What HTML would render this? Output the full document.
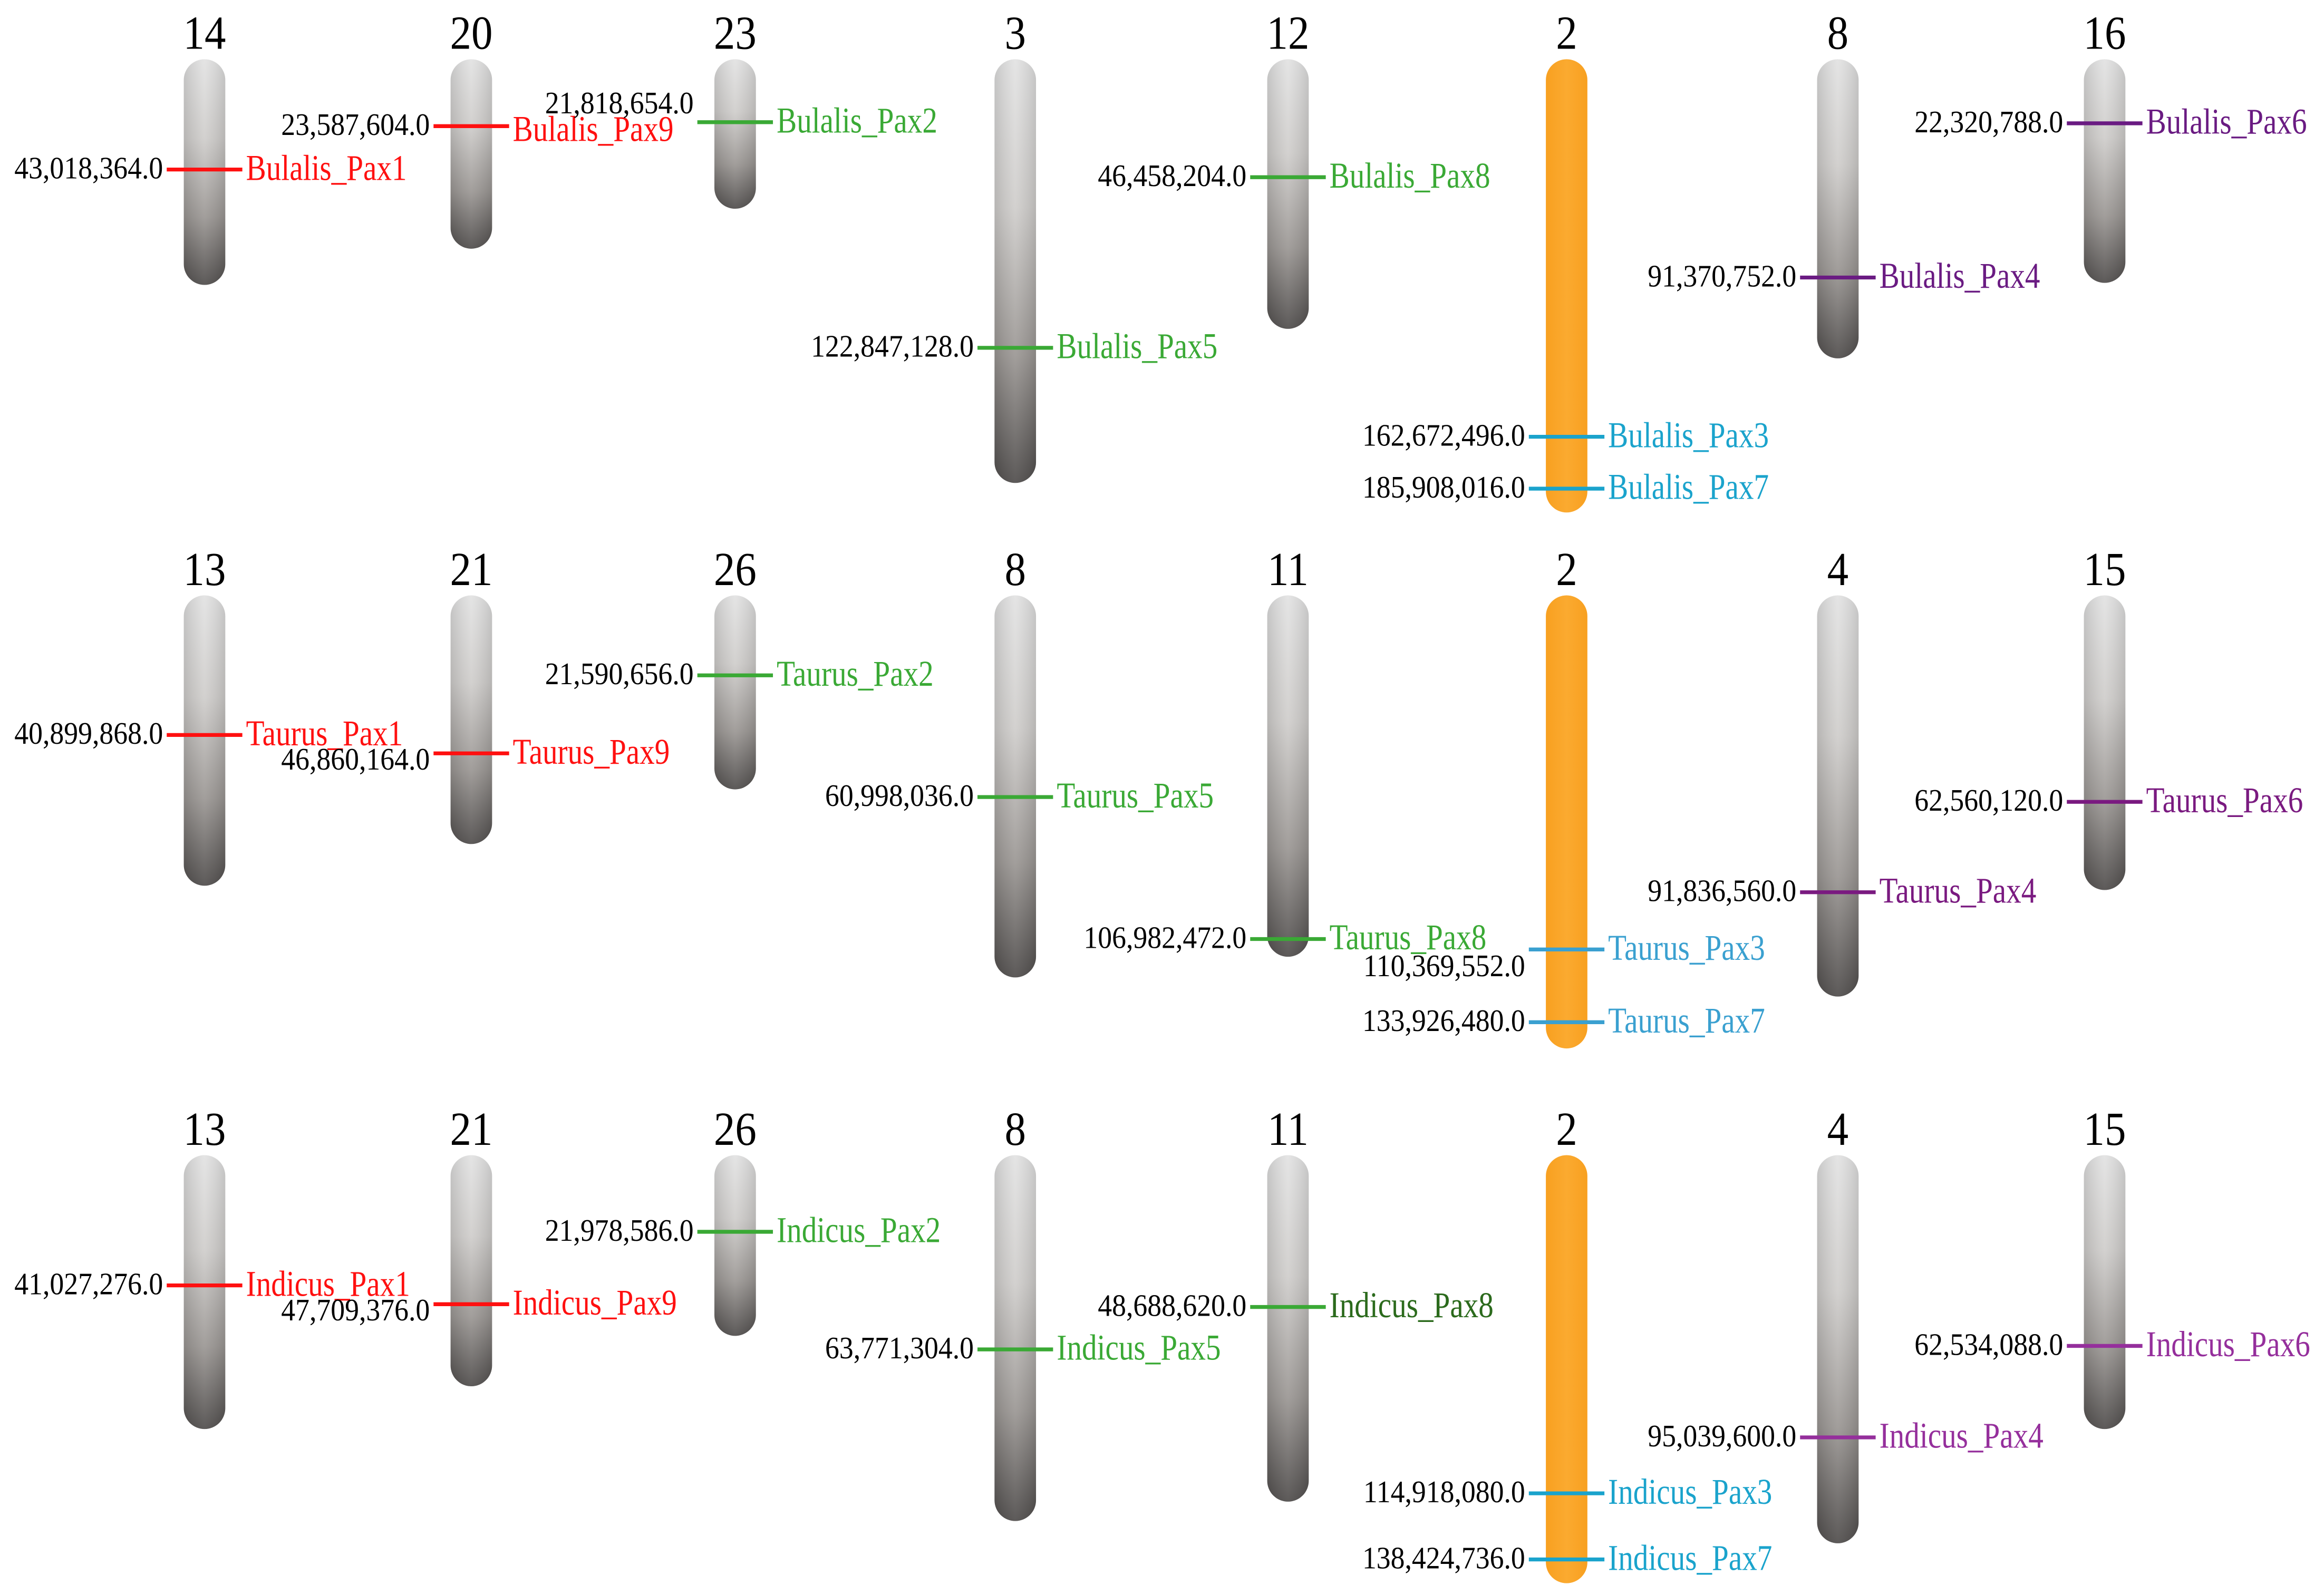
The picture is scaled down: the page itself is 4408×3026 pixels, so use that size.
<!DOCTYPE html>
<html><head><meta charset="utf-8"><style>
html,body{margin:0;padding:0;background:#fff;}
svg{display:block;}
</style></head><body>
<svg id="chart" width="4408" height="3026" viewBox="0 0 1568 1077" preserveAspectRatio="none" xmlns="http://www.w3.org/2000/svg">
<defs>
<linearGradient id="gv" x1="0" y1="0" x2="0" y2="1">
<stop offset="0" stop-color="#e2e2e2"/><stop offset="0.35" stop-color="#cfcdcb"/><stop offset="0.7" stop-color="#9a9693"/><stop offset="1" stop-color="#4f4c4b"/>
</linearGradient>
<linearGradient id="gh" x1="0" y1="0" x2="1" y2="0">
<stop offset="0" stop-color="#000" stop-opacity="0.12"/><stop offset="0.5" stop-color="#fff" stop-opacity="0.08"/><stop offset="1" stop-color="#000" stop-opacity="0.12"/>
</linearGradient>
<linearGradient id="go" x1="0" y1="0" x2="1" y2="0">
<stop offset="0" stop-color="#f8a020"/><stop offset="0.5" stop-color="#fbaa30"/><stop offset="1" stop-color="#f8a020"/>
</linearGradient>
</defs>
<g id="layer"></g>
</svg>
<script>
// Row definitions
const rowSpecies = ["Bulalis", "Taurus", "Indicus"];
const rowChromNames = [
  ["14","20","23","3","12","2","8","16"],
  ["13","21","26","8","11","2","4","15"],
  ["13","21","26","8","11","2","4","15"]
];
// chromosome lengths (Mb)
const rowChromLengths = [
  [88.3, 72.1, 54.2, 177, 108, 190.2, 121.2, 87.4],
  [85.4, 71.9, 54.2, 115.1, 108.4, 138.1, 121.3, 86.8],
  [86.8, 71.6, 53.7, 119.5, 112.6, 141.6, 127.4, 86.8]
];
// gene -> column index (same for all rows)
const geneNames = ["Pax1","Pax9","Pax2","Pax5","Pax8","Pax3","Pax7","Pax4","Pax6"];
const geneColumn = [0,1,2,3,4,5,5,6,7];
// gene positions (bp)
const rowGenePositions = [
  [43018364, 23587604, 21818654, 122847128, 46458204, 162672496, 185908016, 91370752, 22320788],
  [40899868, 46860164, 21590656, 60998036, 106982472, 110369552, 133926480, 91836560, 62560120],
  [41027276, 47709376, 21978586, 63771304, 48688620, 114918080, 138424736, 95039600, 62534088]
];

// layout
const colX = [138, 318, 496, 685, 869, 1057, 1240, 1420];
const rowTop = [40, 402, 780];
const rowScale = [1.508, 2.085, 1.9]; // px per Mb
const rowPad = [9.6, 9, 10];
const chrW = 28;
const highlightCol = 5;
const lineColors = {
  red: "#ff1010", green: "#3aa935", cyan: "#1aa3cc", purple: ["#6a1b82", "#7a1a80", "#952f9c"]
};
function geneColor(g, r, text) {
  if (g === "Pax1" || g === "Pax9") return lineColors.red;
  if (g === "Pax2" || g === "Pax5" || g === "Pax8") {
    if (text && r === 2 && g === "Pax8") return "#2b6a1c";
    return lineColors.green;
  }
  if (g === "Pax3" || g === "Pax7") return r === 1 ? "#3aa0d0" : lineColors.cyan;
  return lineColors.purple[r];
}
const valueDy = {"0-Pax2": -12, "1-Pax3": 12, "1-Pax9": 5, "2-Pax9": 5};
const nameDy = {"0-Pax9": 3};

const NS = "http://www.w3.org/2000/svg";
const layer = document.getElementById("layer");
function mk(tag, attrs, parent) {
  const e = document.createElementNS(NS, tag);
  for (const k in attrs) e.setAttribute(k, attrs[k]);
  (parent || layer).appendChild(e);
  return e;
}
function txt(str, x, y, size, color, anchor, sx, parent) {
  const g = mk("g", {transform: `translate(${x},${y}) scale(${sx},1)`}, parent);
  const t = mk("text", {x: 0, y: 0, "font-family": "'Liberation Serif', serif", "font-size": size, fill: color, "text-anchor": anchor}, g);
  t.textContent = str;
  return t;
}
function fmt(v) { return v.toLocaleString("en-US") + ".0"; }

for (let r = 0; r < 3; r++) {
  const top = rowTop[r], k = rowScale[r], pad = rowPad[r];
  for (let c = 0; c < 8; c++) {
    const len = rowChromLengths[r][c];
    const h = len * k + 2 * pad;
    const x = colX[c];
    const lab = txt(rowChromNames[r][c], x, top - 7, 32, "#000", "middle", 0.9);
    
    
    const body = mk("rect", {x: x - chrW/2, y: top, width: chrW, height: h, rx: 14, ry: 14, fill: c === highlightCol ? "url(#go)" : "url(#gv)"});
    
    
    if (c !== highlightCol) {
      const sh = mk("rect", {x: x - chrW/2, y: top, width: chrW, height: h, rx: 14, ry: 14, fill: "url(#gh)"});
      
      
    }
  }
  for (let i = 0; i < geneNames.length; i++) {
    const g = geneNames[i], c = geneColumn[i];
    const pos = rowGenePositions[r][i];
    const y = top + pad + (pos / 1e6) * k;
    const x = colX[c];
    const key = r + "-" + g;
    const ln = mk("line", {x1: x - 25.5, x2: x + 25.5, y1: y, y2: y, stroke: geneColor(g, r, false), "stroke-width": 2.6});
    
    
    const vt = txt(fmt(pos), x - 28, y + 6 + (valueDy[key] || 0), 21, "#000", "end", 0.91);
    
    
    const nt = txt(rowSpecies[r] + "_" + g, x + 28, y + 7 + (nameDy[key] || 0), 24.5, geneColor(g, r, true), "start", 0.83);
    
    
  }
}
</script>
</body></html>
